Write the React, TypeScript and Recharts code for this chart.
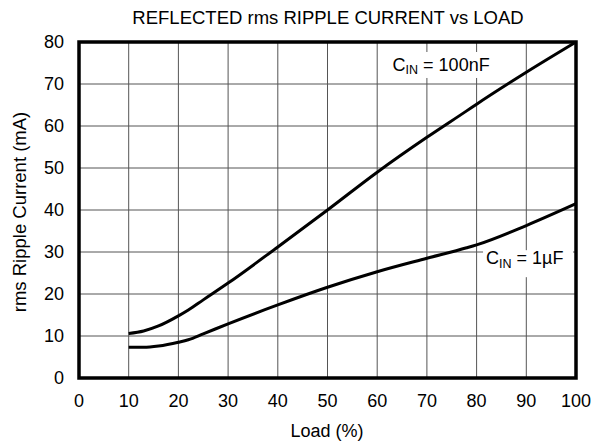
import React from 'react'
import { LineChart, Line, XAxis, YAxis, CartesianGrid, ReferenceArea, ReferenceDot } from 'recharts'

const loads = [10, 13, 16, 20, 22, 25, 30, 40, 50, 60, 70, 78, 80, 90, 100]
const cin100nF = [10.6, 11.2, 12.4, 14.8, 16.2, 18.6, 22.6, 31.2, 40, 49, 57.3, 63.6, 65.2, 72.8, 80]
const cin1uF = [7.3, 7.3, 7.6, 8.5, 9.1, 10.5, 12.9, 17.4, 21.6, 25.3, 28.5, 31, 31.7, 36.3, 41.5]
const xTicks = [0, 10, 20, 30, 40, 50, 60, 70, 80, 90, 100]
const yTicks = [0, 10, 20, 30, 40, 50, 60, 70, 80]

const data = loads.map((load, i) => ({ load, a: cin100nF[i], b: cin1uF[i] }))
const FONT = 'Liberation Sans, Arial, sans-serif'

const XTick = (p: any) => (
  <text x={p.x} y={p.y + 21} textAnchor="middle" fontSize={18} fontFamily={FONT} fill="#000">
    {p.payload.value}
  </text>
)
const YTick = (p: any) => (
  <text x={p.x - 7} y={p.y + 6} textAnchor="end" fontSize={18} fontFamily={FONT} fill="#000">
    {p.payload.value}
  </text>
)

const curveLabel = (value: string, box: [number, number, number, number]) => (props: any) => {
  const { cx, cy } = props
  const [l, t, w, h] = box
  return (
    <g>
      <rect x={cx + l} y={cy + t} width={w} height={h} fill="#fff" />
      <text x={cx} y={cy} fontSize={18} fontFamily={FONT} fill="#000">
        C<tspan fontSize={12.5} dy={3.5}>IN</tspan>
        <tspan dy={-3.5}>{' = ' + value}</tspan>
      </text>
    </g>
  )
}

const Label100 = curveLabel('100nF', [-8, -19, 116, 26])
const Label1u = curveLabel('1µF', [-3, -14, 90, 27])

export default function App() {
  return (
    <div style={{ position: 'absolute', left: 0, top: 0, width: 601, height: 445, background: '#fff' }}>
      <LineChart width={601} height={445} data={data} margin={{ top: 42, right: 25, bottom: 0, left: 0 }}>
        <text x={328} y={24} textAnchor="middle" fontSize={18.5} fontFamily={FONT} fill="#000">
          REFLECTED rms RIPPLE CURRENT vs LOAD
        </text>
        <text x={327} y={437} textAnchor="middle" fontSize={18} fontFamily={FONT} fill="#000">Load (%)</text>
        <text x={26} y={212} textAnchor="middle" fontSize={18.5} fontFamily={FONT} fill="#000" transform="rotate(-90 26 212)">
          rms Ripple Current (mA)
        </text>
        <CartesianGrid stroke="#555" strokeWidth={1} />
        <XAxis dataKey="load" type="number" domain={[0, 100]} ticks={xTicks} axisLine={false} tickLine={false} height={67} tick={<XTick />} interval={0} />
        <YAxis type="number" domain={[0, 80]} ticks={yTicks} axisLine={false} tickLine={false} width={79} tick={<YTick />} interval={0} />
        <Line dataKey="a" type="monotone" stroke="#000" strokeWidth={3} dot={false} isAnimationActive={false} />
        <Line dataKey="b" type="monotone" stroke="#000" strokeWidth={3} dot={false} isAnimationActive={false} />
        <ReferenceArea x1={0} x2={100} y1={0} y2={80} fill="none" stroke="#000" strokeWidth={3.5} ifOverflow="visible" />
        <ReferenceDot x={63.1} y={73.1} r={0} shape={Label100} ifOverflow="visible" />
        <ReferenceDot x={81.9} y={27.1} r={0} shape={Label1u} ifOverflow="visible" />
      </LineChart>
    </div>
  )
}
